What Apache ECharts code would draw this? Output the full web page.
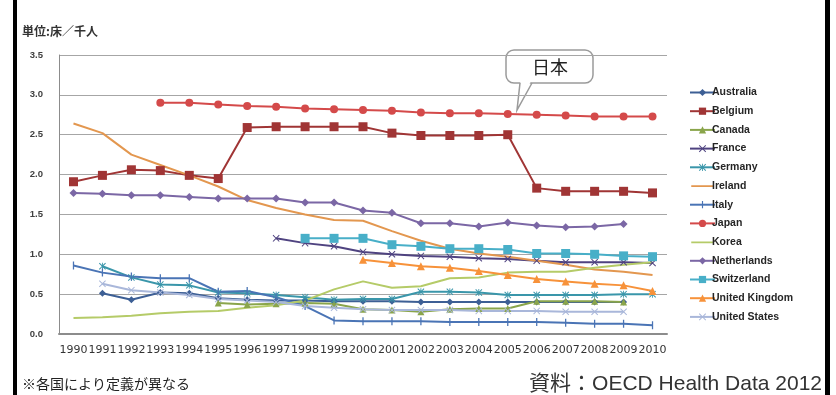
<!DOCTYPE html>
<html><head><meta charset="utf-8">
<script src="https://cdn.jsdelivr.net/npm/echarts@6/dist/echarts.min.js"></script>
<style>html,body{margin:0;padding:0;background:#fff}#c{width:836px;height:395px}</style>
</head><body><div id="c"></div>
<script>
const years = ['1990','1991','1992','1993','1994','1995','1996','1997','1998','1999','2000','2001','2002','2003','2004','2005','2006','2007','2008','2009','2010'];
const yTicks = [0, 0.5, 1.0, 1.5, 2.0, 2.5, 3.0, 3.5];
const australia = [null,0.51,0.43,0.52,0.51,0.45,0.43,0.42,0.42,0.41,0.41,0.41,0.40,0.40,0.40,0.40,0.40,0.40,0.40,0.40,null];
const belgium = [1.91,1.99,2.06,2.05,1.99,1.95,2.59,2.60,2.60,2.60,2.60,2.52,2.49,2.49,2.49,2.50,1.83,1.79,1.79,1.79,1.77];
const canada = [null,null,null,null,null,0.39,0.37,0.38,0.39,0.38,0.31,0.30,0.28,0.31,0.32,0.32,0.41,0.41,0.41,0.40,null];
const france = [null,null,null,null,null,null,null,1.20,1.14,1.10,1.03,1.00,0.98,0.97,0.95,0.94,0.92,0.90,0.90,0.90,0.89];
const germany = [null,0.85,0.71,0.62,0.61,0.52,0.51,0.49,0.46,0.43,0.44,0.44,0.53,0.53,0.52,0.49,0.49,0.49,0.49,0.50,0.50];
const ireland = [2.64,2.52,2.25,2.12,1.99,1.85,1.68,1.58,1.50,1.43,1.42,1.29,1.17,1.07,1.01,0.97,0.92,0.87,0.81,0.78,0.74];
const italy = [0.86,0.77,0.72,0.70,0.70,0.53,0.54,0.46,0.35,0.17,0.16,0.16,0.16,0.15,0.15,0.15,0.15,0.14,0.13,0.13,0.11];
const japan = [null,null,null,2.90,2.90,2.88,2.86,2.85,2.83,2.82,2.81,2.80,2.78,2.77,2.77,2.76,2.75,2.74,2.73,2.73,2.73];
const korea = [0.20,0.21,0.23,0.26,0.28,0.29,0.33,0.36,0.42,0.56,0.66,0.58,0.60,0.70,0.71,0.77,0.78,0.78,0.83,0.87,0.90];
const netherlands = [1.77,1.76,1.74,1.74,1.72,1.70,1.70,1.70,1.65,1.65,1.55,1.52,1.39,1.39,1.35,1.40,1.36,1.34,1.35,1.38,null];
const switzerland = [null,null,null,null,null,null,null,null,1.20,1.20,1.20,1.12,1.10,1.07,1.07,1.06,1.01,1.01,1.00,0.98,0.97];
const uk = [null,null,null,null,null,null,null,null,null,null,0.93,0.89,0.85,0.83,0.79,0.74,0.69,0.66,0.63,0.61,0.54];
const us = [null,0.63,0.55,0.52,0.49,0.44,0.42,0.40,0.35,0.33,0.31,0.30,0.30,0.30,0.29,0.29,0.29,0.28,0.28,0.28,null];

const X = 'path://M0,1L1,0L5,4L9,0L10,1L6,5L10,9L9,10L5,6L1,10L0,9L4,5Z';
const AST = 'path://M0,1L1,0L4.4,3.4L4.4,0L5.6,0L5.6,3.4L9,0L10,1L6,5L10,9L9,10L5.6,6.6L5.6,10L4.4,10L4.4,6.6L1,10L0,9L4,5Z';
const PLUS = 'path://M0,4.95h0.02v0.1h-0.02z M4.2,0h1.6v10h-1.6z M9.98,4.95h0.02v0.1h-0.02z';
const LINEICON = 'path://M0,0h0.01v0.01h-0.01z M0,4.2h25v2h-25z M24.99,9.99h0.01v0.01h-0.01z';

function s(name, data, color, symbol, size) {
  return {
    name, type: 'line', data, connectNulls: false,
    symbol: symbol || 'none', symbolSize: size || 7, showSymbol: !!symbol,
    lineStyle: { color, width: 2 },
    itemStyle: { color, borderWidth: 0 },
    emphasis: { disabled: true }, animation: false
  };
}
const names = ['Australia','Belgium','Canada','France','Germany','Ireland','Italy','Japan','Korea','Netherlands','Switzerland','United Kingdom','United States'];

const chart = echarts.init(document.getElementById('c'), null, { renderer: 'canvas' });
chart.setOption({
  animation: false,
  backgroundColor: '#fff',
  grid: { left: 59, right: 169, top: 55, bottom: 61, containLabel: false },
  xAxis: {
    type: 'category', data: years, boundaryGap: true,
    axisLine: { lineStyle: { color: '#8c8c8c', width: 2 } },
    axisTick: { show: false },
    axisLabel: { interval: 0, margin: 11, fontSize: 11, fontFamily: 'DejaVu Sans', color: '#333' }
  },
  yAxis: {
    type: 'value', min: 0, max: 3.5, interval: 0.5,
    axisLine: { show: true, lineStyle: { color: '#8c8c8c', width: 1 } },
    axisTick: { show: false },
    splitLine: { lineStyle: { color: '#a6a6a6', width: 1 } },
    axisLabel: { margin: 16, fontSize: 9.5, fontWeight: 'bold', fontFamily: 'Liberation Sans', color: '#404040',
      formatter: v => yTicks.indexOf(v) >= 0 ? v.toFixed(1) : '' }
  },
  legend: {
    orient: 'vertical', left: 684, top: 82, itemWidth: 25, itemHeight: 9, itemGap: 7.7,
    textStyle: { fontSize: 10.5, fontWeight: 'bold', fontFamily: 'Liberation Sans', color: '#262626', lineHeight: 10, padding: [0,0,0,-8] },
    data: names.map(n => (n === 'Ireland' || n === 'Korea') ? { name: n, icon: LINEICON } : { name: n })
  },
  series: [
    s('Australia', australia, '#3d5f95', 'diamond', 7),
    s('Belgium', belgium, '#a03535', 'rect', 9),
    s('Canada', canada, '#8aa54b', 'triangle', 7),
    s('France', france, '#4f4380', X, 7),
    s('Germany', germany, '#3a96aa', AST, 7),
    s('Ireland', ireland, '#e3974f', null),
    s('Italy', italy, '#4a74b5', PLUS, 8),
    s('Japan', japan, '#d44a4a', 'circle', 8),
    s('Korea', korea, '#b5cb68', null),
    s('Netherlands', netherlands, '#7b67a5', 'diamond', 8),
    s('Switzerland', switzerland, '#48afc8', 'rect', 9),
    s('United Kingdom', uk, '#f7923a', 'triangle', 8),
    s('United States', us, '#a9b7da', X, 7)
  ],
  graphic: [
    { type: 'rect', shape: { x: 13, y: 0, width: 4, height: 395 }, style: { fill: '#000' } },
    { type: 'rect', shape: { x: 825, y: 0, width: 5, height: 395 }, style: { fill: '#000' } },
    { type: 'text', left: 22, top: 25, style: { text: '単位:床／千人', fontSize: 12, fontWeight: 'bold', fontFamily: 'Noto Sans CJK JP', fill: '#333' } },
    { type: 'rect', shape: { x: 506, y: 50, width: 87, height: 33, r: 8 }, style: { fill: '#fff', stroke: '#9a9a9a', lineWidth: 1.5 } },
    { type: 'polygon', shape: { points: [[520.5, 81], [531, 81], [517, 110]] }, style: { fill: '#fff' } },
    { type: 'polyline', shape: { points: [[520, 83], [517, 110], [532, 83]] }, style: { stroke: '#9a9a9a', lineWidth: 1.5, fill: null } },
    { type: 'text', x: 550, y: 67, style: { text: '日本', fontSize: 18, fontFamily: 'Noto Sans CJK JP', fill: '#222', align: 'center', verticalAlign: 'middle' } },
    { type: 'text', x: 22, y: 384, style: { text: '※各国により定義が異なる', fontSize: 14, fontFamily: 'Noto Sans CJK JP', fill: '#222', verticalAlign: 'middle' } },
    { type: 'text', x: 822, y: 384, style: { text: '資料：OECD Health Data 2012', fontSize: 21, fontFamily: '"Liberation Sans", "Noto Sans CJK JP"', fill: '#333', align: 'right', verticalAlign: 'middle' } }
  ]
});
</script></body></html>
